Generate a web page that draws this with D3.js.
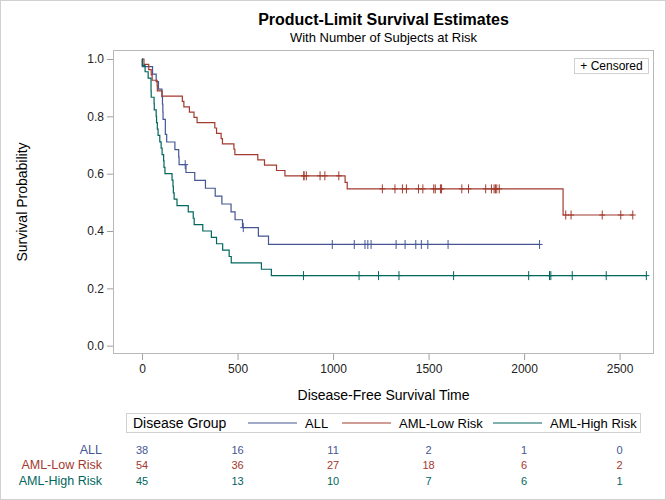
<!DOCTYPE html>
<html><head><meta charset="utf-8">
<script src="https://cdn.jsdelivr.net/npm/d3@7"></script>
<style>body{margin:0;background:#fff}svg{display:block;font-family:"Liberation Sans",Arial,sans-serif}</style>
</head><body><svg id="c" width="666" height="500"></svg>
<script>
// Disease-free survival times (days) and event flag (1 = death/relapse, 0 = censored)
const groups = ["ALL", "AML-Low Risk", "AML-High Risk"];
const colors = ["#445694", "#A23A2E", "#01665E"];
const timeALL = [2081,1602,1496,1462,1433,1377,1330,996,226,1199,1111,530,1182,1167,418,383,276,104,609,172,487,662,194,230,526,122,129,74,122,86,466,192,109,55,1,107,110,332];
const statusALL = [0,0,0,0,0,0,0,0,0,0,0,0,0,0,1,1,1,1,1,1,1,1,1,1,1,1,1,1,1,1,1,1,1,1,1,1,1,1];
const timeLow = [2569,2506,2409,2218,1857,1829,1562,1470,1363,1030,860,1258,2246,1870,1799,1709,1674,1568,1527,1324,957,932,847,848,1850,1843,1535,1447,1384,414,2204,1063,481,105,641,390,288,421,79,748,486,48,272,1074,381,10,53,80,35,248,704,211,219,606];
const statusLow = [0,0,0,0,0,0,0,0,0,0,0,0,0,0,0,0,0,0,0,0,0,0,0,0,0,0,0,0,0,1,1,1,1,1,1,1,1,1,1,1,1,1,1,1,1,1,1,1,1,1,1,1,1,1];
const timeHigh = [2640,2430,2252,2140,2133,1238,1631,2024,1345,1136,845,422,162,84,100,2,47,242,456,268,318,32,467,47,390,183,105,115,164,93,120,80,677,64,168,74,16,157,625,48,273,63,76,113,363];
const statusHigh = [0,0,0,0,0,0,0,0,0,0,0,1,1,1,1,1,1,1,1,1,1,1,1,1,1,1,1,1,1,1,1,1,1,1,1,1,1,1,1,1,1,1,1,1,1];
const riskTimes = [0, 500, 1000, 1500, 2000, 2500];
const riskALL = [38, 16, 11, 2, 1, 0];
const riskLow = [54, 36, 27, 18, 6, 2];
const riskHigh = [45, 13, 10, 7, 6, 1];
const xTicks = [0, 500, 1000, 1500, 2000, 2500];
const yTicks = [0, 0.2, 0.4, 0.6, 0.8, 1.0];

const times = [timeALL, timeLow, timeHigh];
const stats = [statusALL, statusLow, statusHigh];
const risks = [riskALL, riskLow, riskHigh];

// Product-limit estimate from the raw data
function km(t, s) {
  const obs = t.map((v, i) => ({t: v, s: s[i]})).sort((a, b) => a.t - b.t);
  const uniq = Array.from(new Set(obs.map(o => o.t))).sort((a, b) => a - b);
  let S = 1, n = obs.length;
  const steps = [{t: 0, S: 1}], cens = [];
  for (const u of uniq) {
    const at = obs.filter(o => o.t === u);
    const d = at.filter(o => o.s === 1).length;
    if (d > 0) { S = S * (1 - d / n); steps.push({t: u, S}); }
    at.filter(o => o.s === 0).forEach(() => cens.push({t: u, S}));
    n -= at.length;
  }
  steps.push({t: uniq[uniq.length - 1], S});
  return {steps, cens};
}

const svg = d3.select("#c");
const W = 666, H = 500;
const L = 113, R = 654, T = 50, B = 354;
const x = d3.scaleLinear().domain([-152, 2680]).range([L, R]);
const y = d3.scaleLinear().domain([-0.029, 1.0314]).range([B, T]);

svg.append("rect").attr("x", 0.5).attr("y", 0.5).attr("width", W - 1).attr("height", H - 1)
  .attr("fill", "#fff").attr("stroke", "#d0d0d0");

svg.append("text").attr("x", 383.5).attr("y", 25).attr("text-anchor", "middle")
  .attr("font-size", 16).attr("font-weight", "bold").attr("fill", "#000").text("Product-Limit Survival Estimates");
svg.append("text").attr("x", 383.5).attr("y", 42).attr("text-anchor", "middle")
  .attr("font-size", 13).attr("fill", "#000").text("With Number of Subjects at Risk");

// axes
const gx = svg.append("g").attr("transform", `translate(0,${B})`)
  .call(d3.axisBottom(x).tickValues(xTicks).tickSize(6).tickPadding(4).tickFormat(d3.format("d")));
const gy = svg.append("g").attr("transform", `translate(${L},0)`)
  .call(d3.axisLeft(y).tickValues(yTicks).tickSize(6).tickPadding(3).tickFormat(d3.format(".1f")));
[gx, gy].forEach(g => {
  g.select(".domain").remove();
  g.selectAll("line").attr("stroke", "#a0a0a0");
  g.selectAll("text").attr("font-size", 12).attr("fill", "#222").attr("font-family", '"Liberation Sans",Arial,sans-serif');
});
svg.append("rect").attr("x", L + 0.5).attr("y", T + 0.5).attr("width", R - L - 1).attr("height", B - T - 1)
  .attr("fill", "none").attr("stroke", "#b8b8b8");

svg.append("text").attr("transform", `translate(27,${(T + B) / 2}) rotate(-90)`).attr("text-anchor", "middle")
  .attr("font-size", 14).attr("fill", "#000").text("Survival Probability");
svg.append("text").attr("x", (L + R) / 2).attr("y", 400).attr("text-anchor", "middle")
  .attr("font-size", 14).attr("fill", "#000").text("Disease-Free Survival Time");

// curves
const line = d3.line().x(d => x(d.t)).y(d => y(d.S)).curve(d3.curveStepAfter);
groups.forEach((g, i) => {
  const k = km(times[i], stats[i]);
  svg.append("path").attr("d", line(k.steps)).attr("fill", "none")
    .attr("stroke", colors[i]).attr("stroke-width", 1.2);
  svg.append("g").selectAll("path").data(k.cens).join("path")
    .attr("d", d => `M${x(d.t)},${y(d.S) - 4.5}V${y(d.S) + 4.5}M${x(d.t) - 3},${y(d.S)}H${x(d.t) + 3}`)
    .attr("stroke", colors[i]).attr("stroke-width", 1).attr("fill", "none");
});

// censored legend
svg.append("rect").attr("x", 574.5).attr("y", 58.5).attr("width", 74).attr("height", 15)
  .attr("fill", "#fff").attr("stroke", "#d0d0d0");
svg.append("text").attr("x", 611.5).attr("y", 70).attr("text-anchor", "middle")
  .attr("font-size", 12).attr("fill", "#000").text("+ Censored");

// group legend
svg.append("rect").attr("x", 126.5).attr("y", 413.5).attr("width", 514).attr("height", 19)
  .attr("fill", "#fff").attr("stroke", "#d0d0d0");
svg.append("text").attr("x", 133).attr("y", 428).attr("font-size", 14).attr("fill", "#000").text("Disease Group");
const legX = [248, 342, 493];
groups.forEach((g, i) => {
  svg.append("line").attr("x1", legX[i]).attr("x2", legX[i] + 49).attr("y1", 423).attr("y2", 423)
    .attr("stroke", colors[i]).attr("stroke-width", 1.2);
  svg.append("text").attr("x", legX[i] + 57).attr("y", 428).attr("font-size", 13).attr("fill", "#000").text(g);
});

// at-risk table
const rowY = [454, 469, 485];
groups.forEach((g, i) => {
  svg.append("text").attr("x", 102).attr("y", rowY[i]).attr("text-anchor", "end")
    .attr("font-size", 12.5).attr("fill", colors[i]).text(g);
  svg.append("g").selectAll("text").data(riskTimes).join("text")
    .attr("x", d => x(d)).attr("y", rowY[i]).attr("text-anchor", "middle")
    .attr("font-size", 11).attr("fill", colors[i]).text((d, j) => risks[i][j]);
});
</script></body></html>
